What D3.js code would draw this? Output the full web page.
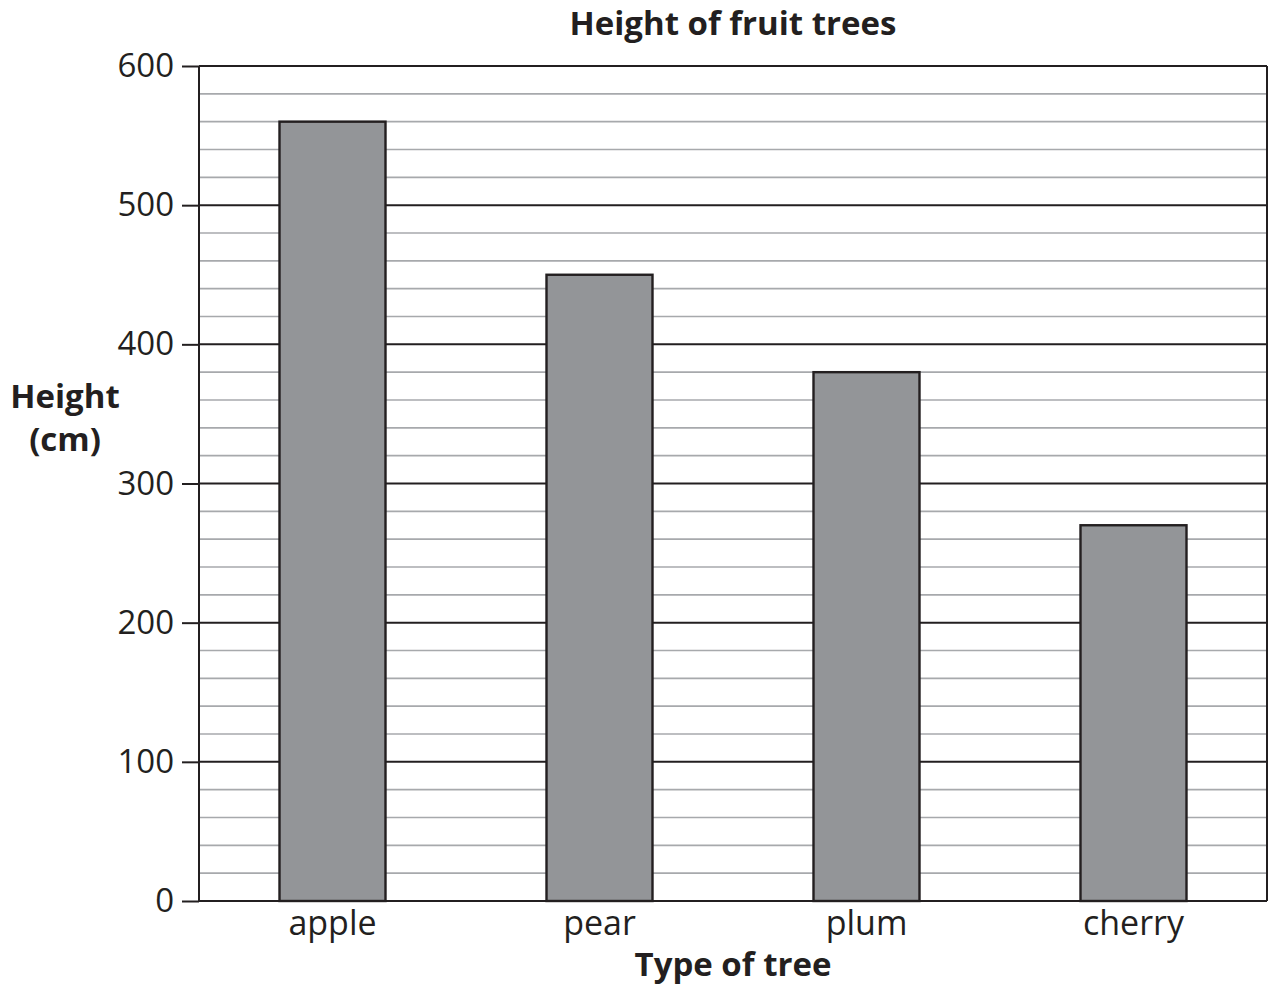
<!DOCTYPE html>
<html><head><meta charset="utf-8">
<script src="https://cdn.jsdelivr.net/npm/d3@7"></script>
<style>body{margin:0;background:#fff;} text{font-family:"Open Sans","Noto Sans",sans-serif;fill:#231f20;}</style>
</head><body>
<svg id="c" width="1272" height="987"></svg>
<script>
const categories = ["apple","pear","plum","cherry"];
const heights = [560,450,380,270];
const yTicks = [0,100,200,300,400,500,600];
const minorTicks = d3.range(0,601,20);
const title = "Height of fruit trees";
const xTitle = "Type of tree";
const yTitle = ["Height","(cm)"];

const svg = d3.select("#c");
const m = {l:199, r:1267, t:66, b:901};
const x = d3.scaleBand().domain(categories).range([m.l,m.r]).paddingInner(0.603).paddingOuter(0.3015);
const y = d3.scaleLinear().domain([0,600]).range([m.b,m.t]);

// minor grid
svg.append("g").selectAll("line").data(minorTicks.filter(d=>d%100!==0)).join("line")
  .attr("x1",m.l).attr("x2",m.r).attr("y1",d=>y(d)).attr("y2",d=>y(d))
  .attr("stroke","#a7a9ac").attr("stroke-width",1.6);
// major grid
svg.append("g").selectAll("line").data(yTicks).join("line")
  .attr("x1",m.l).attr("x2",m.r).attr("y1",d=>y(d)).attr("y2",d=>y(d))
  .attr("stroke","#231f20").attr("stroke-width",2);
// right border
svg.append("line").attr("x1",m.r).attr("x2",m.r).attr("y1",m.t).attr("y2",m.b).attr("stroke","#231f20").attr("stroke-width",2);

// bars
svg.append("g").selectAll("rect").data(categories).join("rect")
  .attr("x",d=>x(d)).attr("width",x.bandwidth())
  .attr("y",(d,i)=>y(heights[i])).attr("height",(d,i)=>y(0)-y(heights[i]))
  .attr("fill","#939598").attr("stroke","#231f20").attr("stroke-width",2.4);

// y axis
const ya = svg.append("g").attr("transform",`translate(${m.l},0)`)
  .call(d3.axisLeft(y).tickValues(yTicks).tickSize(17).tickPadding(8).tickFormat(d3.format("d")));
ya.select(".domain").attr("stroke","#231f20").attr("stroke-width",2).attr("d",`M0,${m.t}V${m.b}`);
ya.selectAll(".tick line").attr("stroke","#231f20").attr("stroke-width",2);
ya.selectAll(".tick text").attr("font-size",33).attr("fill","#231f20").style("font-family",'"Open Sans","Noto Sans",sans-serif');

// x axis
const xa = svg.append("g").attr("transform",`translate(0,${m.b})`)
  .call(d3.axisBottom(x).tickSize(0).tickPadding(10));
xa.select(".domain").remove();
xa.selectAll(".tick text").attr("font-size",34).attr("fill","#231f20").style("font-family",'"Open Sans","Noto Sans",sans-serif');

// titles
svg.append("text").attr("x",733).attr("y",35).attr("text-anchor","middle")
  .attr("font-size",33).attr("font-weight","bold").text(title);
svg.append("text").attr("x",733).attr("y",976).attr("text-anchor","middle")
  .attr("font-size",33).attr("font-weight","bold").text(xTitle);
svg.append("text").attr("x",65).attr("y",408).attr("text-anchor","middle")
  .attr("font-size",33).attr("font-weight","bold").text(yTitle[0]);
svg.append("text").attr("x",65).attr("y",451).attr("text-anchor","middle")
  .attr("font-size",33).attr("font-weight","bold").text(yTitle[1]);
</script>
</body></html>
